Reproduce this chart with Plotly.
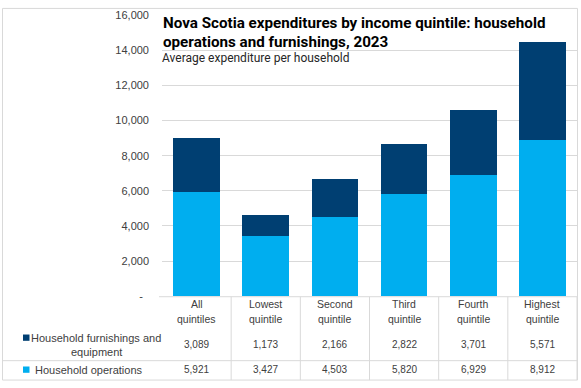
import plotly.graph_objects as go

# ---- data ----
categories = ["All quintiles", "Lowest quintile", "Second quintile",
              "Third quintile", "Fourth quintile", "Highest quintile"]
operations = [5921, 3427, 4503, 5820, 6929, 8912]
furnishings = [3089, 1173, 2166, 2822, 3701, 5571]
series_names = ["Household operations", "Household furnishings and equipment"]
y_tickvals = [0, 2000, 4000, 6000, 8000, 10000, 12000, 14000, 16000]
y_ticktext = ["-\u00a0\u00a0", "2,000", "4,000", "6,000", "8,000", "10,000", "12,000", "14,000", "16,000"]
title_lines = ["Nova Scotia expenditures by income quintile: household",
               "operations and furnishings, 2023"]
subtitle = "Average expenditure per household"

# ---- style ----
W, H = 581, 388
C_DARK = "#003F72"
C_LIGHT = "#00AEEF"
GRID = "#D9D9D9"
TXT = "#404040"
FONT = "Liberation Sans"

PX_L, PX_R = 162, 577      # plot area x (pixels)
PY_T, PY_B = 9.5, 299.5    # plot area y (pixels)

def px(x):
    return x / W

def py(y):
    return 1 - y / H

fig = go.Figure()
fig.add_trace(go.Bar(x=categories, y=operations, name=series_names[0],
                     marker=dict(color=C_LIGHT, line=dict(width=0))))
fig.add_trace(go.Bar(x=categories, y=furnishings, name=series_names[1],
                     marker=dict(color=C_DARK, line=dict(width=0))))

shapes = []
annotations = []

# outer border
shapes.append(dict(type="rect", xref="paper", yref="paper",
                   x0=px(2.5), x1=px(577.5), y0=py(386), y1=py(2.5),
                   line=dict(color=GRID, width=1)))

# data table lines
TAB_TOP, ROW_SEP, TAB_BOT = 300, 366, 386
shapes.append(dict(type="line", xref="paper", yref="paper",
                   x0=px(PX_L - 3), x1=px(577.5), y0=py(TAB_TOP), y1=py(TAB_TOP),
                   line=dict(color=GRID, width=1)))
shapes.append(dict(type="line", xref="paper", yref="paper",
                   x0=px(2.5), x1=px(577.5), y0=py(ROW_SEP), y1=py(ROW_SEP),
                   line=dict(color=GRID, width=1)))
n = len(categories)
for i in range(1, n + 1):
    xb = i - 0.5
    shapes.append(dict(type="line", xref="x", yref="paper",
                       x0=xb, x1=xb, y0=py(TAB_BOT), y1=py(TAB_TOP),
                       line=dict(color=GRID, width=1)))

# category header + values
for i, cat in enumerate(categories):
    words = cat.split(" ")
    for j, w in enumerate(words):
        annotations.append(dict(xref="x", yref="paper", x=cat, y=py(308 + 15.5 * j),
                                text=w, showarrow=False, xanchor="center", yanchor="middle",
                                font=dict(family=FONT, size=10.5, color=TXT)))
    annotations.append(dict(xref="x", yref="paper", x=cat, y=py(349.5),
                            text=f"{furnishings[i]:,}", showarrow=False,
                            xanchor="center", yanchor="middle",
                            font=dict(family=FONT, size=10, color=TXT)))
    annotations.append(dict(xref="x", yref="paper", x=cat, y=py(375.5),
                            text=f"{operations[i]:,}", showarrow=False,
                            xanchor="center", yanchor="middle",
                            font=dict(family=FONT, size=10, color=TXT)))

# legend keys in table
shapes.append(dict(type="rect", xref="paper", yref="paper",
                   x0=px(23), x1=px(29.5), y0=py(345.5), y1=py(339),
                   fillcolor=C_DARK, line=dict(width=0)))
shapes.append(dict(type="rect", xref="paper", yref="paper",
                   x0=px(23), x1=px(29.5), y0=py(378.5), y1=py(372),
                   fillcolor=C_LIGHT, line=dict(width=0)))
annotations.append(dict(xref="paper", yref="paper", x=px(96), y=py(342.5),
                        text="Household furnishings and", showarrow=False,
                        xanchor="center", yanchor="middle",
                        font=dict(family=FONT, size=11, color=TXT)))
annotations.append(dict(xref="paper", yref="paper", x=px(96), y=py(357.5),
                        text="equipment", showarrow=False,
                        xanchor="center", yanchor="middle",
                        font=dict(family=FONT, size=11, color=TXT)))
annotations.append(dict(xref="paper", yref="paper", x=px(32.5), y=py(375.5),
                        text="Household operations", showarrow=False,
                        xanchor="left", yanchor="middle",
                        font=dict(family=FONT, size=11, color=TXT)))

# title + subtitle
annotations.append(dict(xref="paper", yref="paper", x=px(161), y=py(17.5),
                        text=f"<b>{title_lines[0]}</b>", showarrow=False,
                        xanchor="left", yanchor="middle",
                        font=dict(family="Roboto", size=15.2, color="#000000")))
annotations.append(dict(xref="paper", yref="paper", x=px(161), y=py(37),
                        text=f"<b>{title_lines[1]}</b>", showarrow=False,
                        xanchor="left", yanchor="middle",
                        font=dict(family="Roboto", size=15.2, color="#000000")))
annotations.append(dict(xref="paper", yref="paper", x=px(160), y=py(54),
                        text=subtitle, showarrow=False,
                        xanchor="left", yanchor="middle",
                        font=dict(family="Roboto", size=12, color="#262626")))

fig.update_layout(
    width=W, height=H,
    margin=dict(l=0, r=0, t=0, b=0),
    paper_bgcolor="white", plot_bgcolor="white",
    barmode="stack", bargap=0.325,
    showlegend=False,
    shapes=shapes, annotations=annotations,
    xaxis=dict(domain=[px(PX_L), px(PX_R)], showticklabels=False, ticks="",
               showgrid=False, zeroline=False, showline=False,
               range=[-0.5, n - 0.5]),
    yaxis=dict(domain=[py(PY_B), py(PY_T)], range=[0, 16000],
               tickvals=y_tickvals, ticktext=y_ticktext,
               showgrid=True, gridcolor=GRID, gridwidth=1,
               zeroline=False, showline=False, ticks="",
               ticklabelstandoff=12,
               tickfont=dict(family=FONT, size=11, color=TXT)),
)

fig.write_html("out.html", config={"displayModeBar": False},
               post_script="document.body.style.margin='0';")
